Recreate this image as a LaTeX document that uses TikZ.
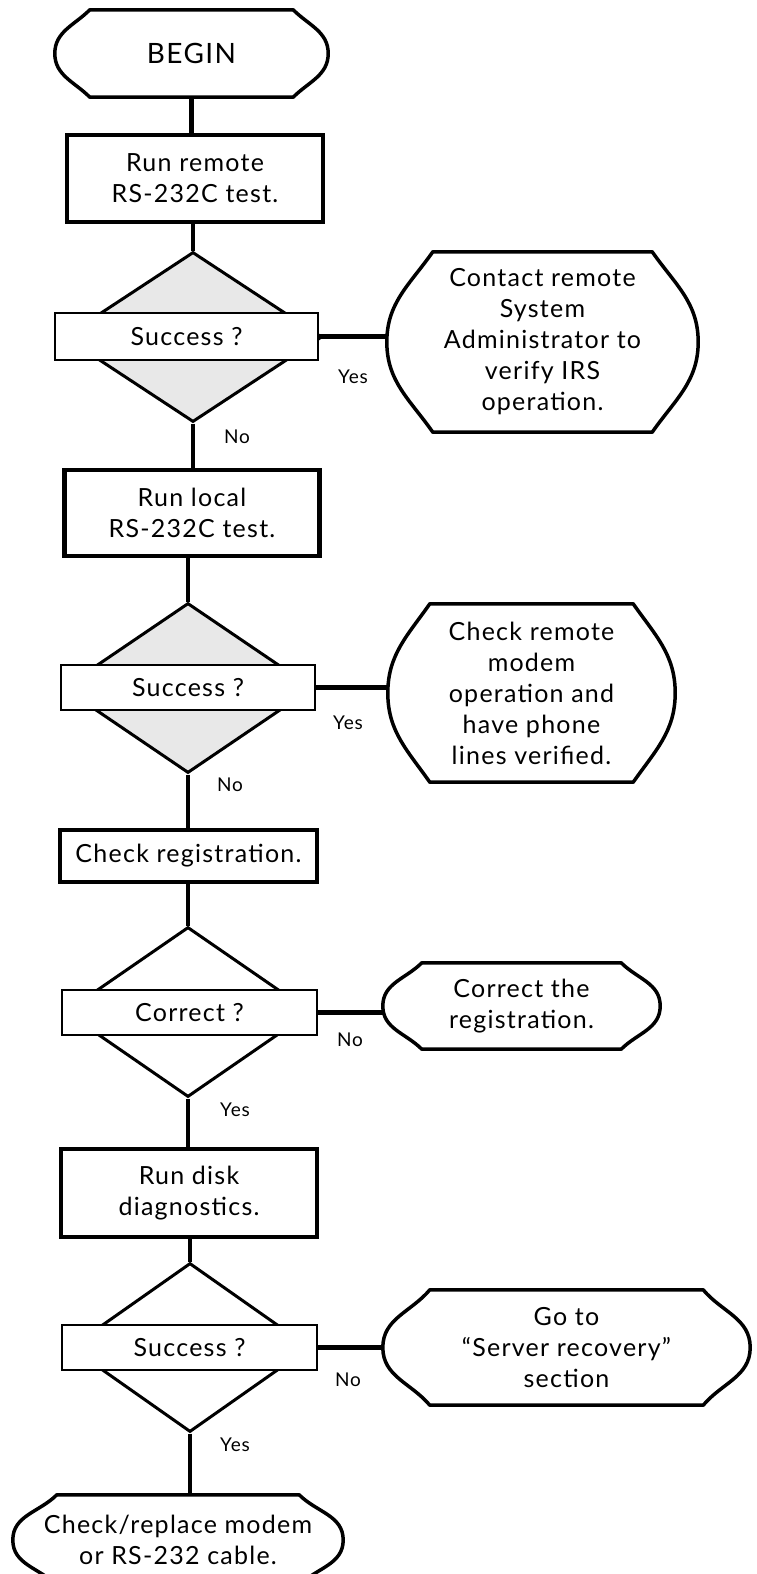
\documentclass[tikz,border=0pt]{standalone}
\usepackage{fontspec}
\setmainfont{Lato}[LetterSpace=5]
\usetikzlibrary{shapes.geometric}
\newcommand\mainsz{\fontsize{25}{31}\selectfont}
\newcommand\bigsz{\fontsize{28}{31}\selectfont}
\newcommand\lblsz{\fontsize{19}{22}\selectfont}
\tikzset{
  conn/.style={line width=4.5pt},
  procbox/.style={draw, line width=4.5pt, inner sep=0pt, align=center, font=\mainsz},
  dec/.style={diamond, draw, line width=3pt, inner sep=0pt},
  decshade/.style={fill=black!9},
  dectext/.style={draw, line width=2pt, fill=white, inner sep=0pt, font=\mainsz},
  termn/.style={inner sep=0pt, align=center, font=\mainsz},
  termline/.style={line width=3.5pt, line join=round},
  lbl/.style={font=\lblsz, inner sep=0pt}
}
% curve angles are canvas angles (not affected by y=-1pt)
\newcommand\mkterm[3]{%
  \draw[termline] ([xshift=#2]#1.north west) -- ([xshift=-#2]#1.north east)
    to[out=-#3,in=90] (#1.east) to[out=-90,in=#3] ([xshift=-#2]#1.south east)
    -- ([xshift=#2]#1.south west) to[out=180-#3,in=-90] (#1.west)
    to[out=90,in=180+#3] cycle;}
\begin{document}
\begin{tikzpicture}[x=1pt,y=-1pt]
\useasboundingbox (0,0) rectangle (757,1574);
\clip (0,0) rectangle (757,1574);
% main column
\node[termn, font=\bigsz, minimum width=273pt, minimum height=87pt] (begin) at (191.5,53.5) {BEGIN};
\mkterm{begin}{35pt}{45}
\node[procbox, minimum width=256pt, minimum height=87pt] (b1) at (195,178.5) {Run remote\\RS-232C test.};
\node[dec, decshade, minimum width=258pt, minimum height=170pt] (d1) at (193,337) {};
\node[dectext, minimum width=263pt, minimum height=47pt] (d1t) at (186.5,336.5) {Success ?};
\node[procbox, minimum width=255pt, minimum height=86pt] (b2) at (192,513) {Run local\\RS-232C test.};
\node[dec, decshade, minimum width=250pt, minimum height=170pt] (d2) at (188,688) {};
\node[dectext, minimum width=254pt, minimum height=45pt] (d2t) at (188,687.5) {Success ?};
\node[procbox, minimum width=257pt, minimum height=52pt] (b3) at (188.5,856) {Check registration.};
\node[dec, minimum width=246pt, minimum height=170pt] (d3) at (188,1012) {};
\node[dectext, minimum width=255pt, minimum height=45pt] (d3t) at (189.5,1012.5) {Correct ?};
\node[procbox, minimum width=256pt, minimum height=88pt] (b4) at (189,1193) {Run disk\\diagnostics.};
\node[dec, minimum width=240pt, minimum height=169pt] (d4) at (190,1347.5) {};
\node[dectext, minimum width=255pt, minimum height=45pt] (d4t) at (189.5,1347.5) {Success ?};
\node[termn, minimum width=330pt, minimum height=90pt] (fin) at (178,1540) {Check/replace modem\\or RS-232 cable.};
\mkterm{fin}{44pt}{45}
% right column
\node[termn, minimum width=311pt, minimum height=180pt] (ra) at (542.5,342) {Contact remote\\System\\Administrator to\\verify IRS\\operation.};
\mkterm{ra}{46pt}{55}
\node[termn, minimum width=287pt, minimum height=178pt] (rb) at (531.5,693) {Check remote\\modem\\operation and\\have phone\\lines verified.};
\mkterm{rb}{42pt}{55}
\node[termn, minimum width=277pt, minimum height=86pt] (rc) at (521.5,1006) {Correct the\\registration.};
\mkterm{rc}{39pt}{45}
\node[termn, minimum width=367pt, minimum height=115pt] (rd) at (566.5,1347.5) {Go to\\“Server recovery”\\section};
\mkterm{rd}{47pt}{50}
% connectors
\draw[conn] (begin.south) -- (begin.south |- b1.north);
\draw[conn] (b1.south -| d1.north) -- (d1.north);
\draw[conn] (d1.south) -- (d1.south |- b2.north);
\draw[conn] (b2.south -| d2.north) -- (d2.north);
\draw[conn] (d2.south) -- (d2.south |- b3.north);
\draw[conn] (b3.south -| d3.north) -- (d3.north);
\draw[conn] (d3.south) -- (d3.south |- b4.north);
\draw[conn] (b4.south -| d4.north) -- (d4.north);
\draw[conn] (d4.south) -- (d4.south |- fin.north);
\draw[conn] (d1t.east) -- (d1t.east -| ra.west);
\draw[conn] (d2t.east) -- (d2t.east -| rb.west);
\draw[conn] (d3t.east) -- (d3t.east -| rc.west);
\draw[conn] (d4t.east) -- (d4t.east -| rd.west);
% labels
\node[lbl] (l1y) at (353,377) {Yes};
\node[lbl] (l1n) at (237,437) {No};
\node[lbl] (l2y) at (348,723) {Yes};
\node[lbl] (l2n) at (230,785) {No};
\node[lbl] (l3n) at (350,1040) {No};
\node[lbl] (l3y) at (235,1110) {Yes};
\node[lbl] (l4n) at (348,1380) {No};
\node[lbl] (l4y) at (235,1445) {Yes};
\end{tikzpicture}
\end{document}
